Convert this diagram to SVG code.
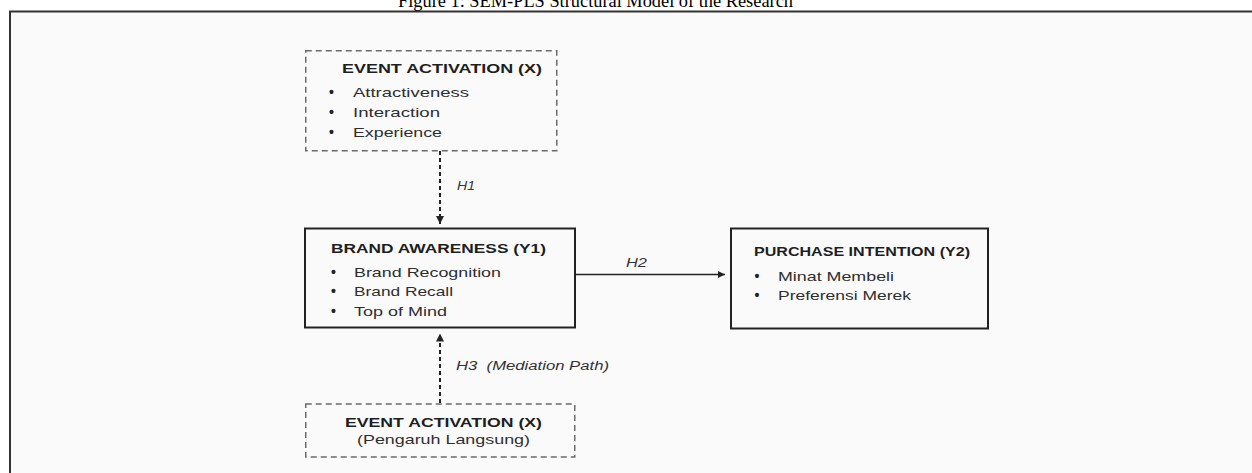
<svg xmlns="http://www.w3.org/2000/svg" width="1252" height="473" viewBox="0 0 1252 473">
<style>
.t{font-family:"Liberation Sans",Arial,Helvetica,sans-serif;fill:#1e1e1e}
.h{font-weight:bold;font-size:13.5px}
.b{font-size:13.5px;fill:#2e2e2e}
.dot{font-size:14px;font-weight:bold;fill:#222}
.l{font-style:italic;font-size:12.5px;fill:#333}
.cap{font-family:"Liberation Serif","Times New Roman",serif;font-size:18px;fill:#000}
.dbox{fill:none;stroke:#6a6a6a;stroke-width:1.5;stroke-dasharray:6 4}
.sbox{fill:none;stroke:#222;stroke-width:2}
.dash{fill:none;stroke:#222;stroke-width:2;stroke-dasharray:4 3}
.solid{fill:none;stroke:#222;stroke-width:1.5}
</style>
<defs>
<marker id="ah" viewBox="0 0 10 10" refX="10" refY="5" markerUnits="userSpaceOnUse" markerWidth="8" markerHeight="8" orient="auto">
<path d="M0,0 L10,5 L0,10 z" fill="#222"/>
</marker>
<marker id="ah2" viewBox="0 0 10 10" refX="10" refY="5" markerUnits="userSpaceOnUse" markerWidth="11" markerHeight="7" orient="auto">
<path d="M0,0 L10,5 L0,10 z" fill="#222"/>
</marker>
</defs>
<rect x="0" y="0" width="1252" height="473" fill="#ffffff"/>
<rect x="10" y="12" width="1242" height="461" fill="#fafafa"/>
<path d="M10,473 V11.5 H1252" fill="none" stroke="#333" stroke-width="2"/>
<text class="cap" x="398" y="6.5" textLength="395" lengthAdjust="spacingAndGlyphs">Figure 1: SEM-PLS Structural Model of the Research</text>

<g id="connectors">
<path class="dash" d="M440,151 V224" marker-end="url(#ah)"/>
<path class="solid" d="M576,274.5 H725" marker-end="url(#ah2)"/>
<path class="dash" d="M440,403 V333.5" marker-end="url(#ah)"/>
<text class="t l" x="457" y="190" textLength="18" lengthAdjust="spacingAndGlyphs">H1</text>
<text class="t l" x="626" y="266.5" textLength="21" lengthAdjust="spacingAndGlyphs">H2</text>
<text class="t l" x="456" y="370" textLength="153" lengthAdjust="spacingAndGlyphs" xml:space="preserve">H3  (Mediation Path)</text>
</g>

<g id="event-activation-top">
<rect class="dbox" x="305.75" y="50.75" width="251" height="100"/>
<text class="t h" x="342" y="73.3" textLength="200" lengthAdjust="spacingAndGlyphs">EVENT ACTIVATION (X)</text>
<text class="t dot" x="329" y="97.3">•</text>
<text class="t b" x="353" y="97.3" textLength="116" lengthAdjust="spacingAndGlyphs">Attractiveness</text>
<text class="t dot" x="329" y="117.3">•</text>
<text class="t b" x="353" y="117.3" textLength="87" lengthAdjust="spacingAndGlyphs">Interaction</text>
<text class="t dot" x="329" y="137.3">•</text>
<text class="t b" x="353" y="137.3" textLength="89" lengthAdjust="spacingAndGlyphs">Experience</text>
</g>

<g id="brand-awareness">
<rect class="sbox" x="305" y="228.5" width="270" height="99"/>
<text class="t h" x="331" y="252.7" textLength="215" lengthAdjust="spacingAndGlyphs">BRAND AWARENESS (Y1)</text>
<text class="t dot" x="331" y="276.7">•</text>
<text class="t b" x="354" y="276.7" textLength="147" lengthAdjust="spacingAndGlyphs">Brand Recognition</text>
<text class="t dot" x="331" y="296">•</text>
<text class="t b" x="354" y="296" textLength="99" lengthAdjust="spacingAndGlyphs">Brand Recall</text>
<text class="t dot" x="331" y="315.7">•</text>
<text class="t b" x="354" y="315.7" textLength="93" lengthAdjust="spacingAndGlyphs">Top of Mind</text>
</g>

<g id="purchase-intention">
<rect class="sbox" x="731" y="228.5" width="257" height="100"/>
<text class="t h" x="754" y="256" textLength="216" lengthAdjust="spacingAndGlyphs">PURCHASE INTENTION (Y2)</text>
<text class="t dot" x="754.5" y="280.7">•</text>
<text class="t b" x="778" y="280.7" textLength="116" lengthAdjust="spacingAndGlyphs">Minat Membeli</text>
<text class="t dot" x="754.5" y="300">•</text>
<text class="t b" x="778" y="300" textLength="133" lengthAdjust="spacingAndGlyphs">Preferensi Merek</text>
</g>

<g id="event-activation-bottom">
<rect class="dbox" x="305.75" y="404" width="269" height="53"/>
<text class="t h" x="345" y="427.3" textLength="197" lengthAdjust="spacingAndGlyphs">EVENT ACTIVATION (X)</text>
<text class="t b" x="357" y="443.5" textLength="173" lengthAdjust="spacingAndGlyphs">(Pengaruh Langsung)</text>
</g>
</svg>
